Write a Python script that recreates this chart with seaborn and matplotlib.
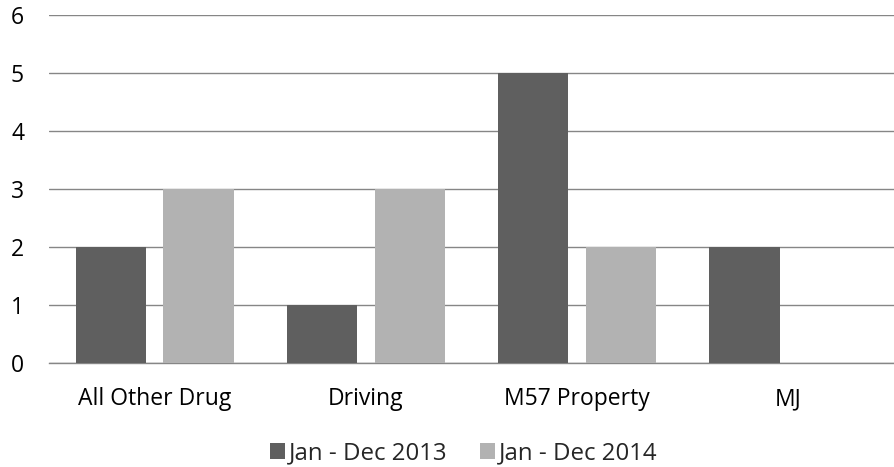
import matplotlib
matplotlib.use("Agg")
import matplotlib.pyplot as plt
import seaborn as sns
import pandas as pd
from matplotlib.patches import Patch

categories = ["All Other Drug", "Driving", "M57 Property", "MJ"]
series_names = ["Jan - Dec 2013", "Jan - Dec 2014"]
values_2013 = [2, 1, 5, 2]
values_2014 = [3, 3, 2, 0]
colors = ["#5f5f5f", "#b2b2b2"]
y_ticks = [0, 1, 2, 3, 4, 5, 6]

df = pd.DataFrame({
    "category": categories * 2,
    "series": [series_names[0]] * 4 + [series_names[1]] * 4,
    "value": values_2013 + values_2014,
})

sns.set_style("white")
plt.rcParams["font.family"] = ["Open Sans", "DejaVu Sans"]

fig = plt.figure(figsize=(8.94, 4.67), dpi=100)
ax = fig.add_axes([49 / 894, 1 - 363 / 467, 1 - 49 / 894, (363 - 15) / 467])

sns.barplot(data=df, x="category", y="value", hue="series", order=categories,
            hue_order=series_names, palette=colors, width=0.83, gap=0.2,
            edgecolor="none", linewidth=0, ax=ax, legend=False, zorder=3)

ax.set_ylim(0, 6)
ax.set_xlim(-0.5, 3.5)
ax.set_yticks(y_ticks)
ax.yaxis.grid(True, color="#868686", linewidth=1.0, zorder=0)
ax.set_axisbelow(True)
for s in ["top", "right", "left"]:
    ax.spines[s].set_visible(False)
ax.spines["bottom"].set_color("#868686")
ax.spines["bottom"].set_linewidth(1.0)
ax.set_xlabel("")
ax.set_ylabel("")
ax.tick_params(axis="y", length=0, pad=18, labelsize=16.5, labelcolor="#000000")
ax.tick_params(axis="x", length=0, pad=17.5, labelsize=16.5, labelcolor="#000000")

handles = [Patch(facecolor=c, edgecolor="none") for c in colors]
fig.legend(handles, series_names, loc="center", bbox_to_anchor=(464 / 894, 1 - 453.5 / 467),
           ncol=2, frameon=False, fontsize=17.3, handlelength=0.6, handleheight=0.6,
           handletextpad=0.17, columnspacing=1.37, borderpad=0, borderaxespad=0)

fig.savefig("out.png", dpi=100)
